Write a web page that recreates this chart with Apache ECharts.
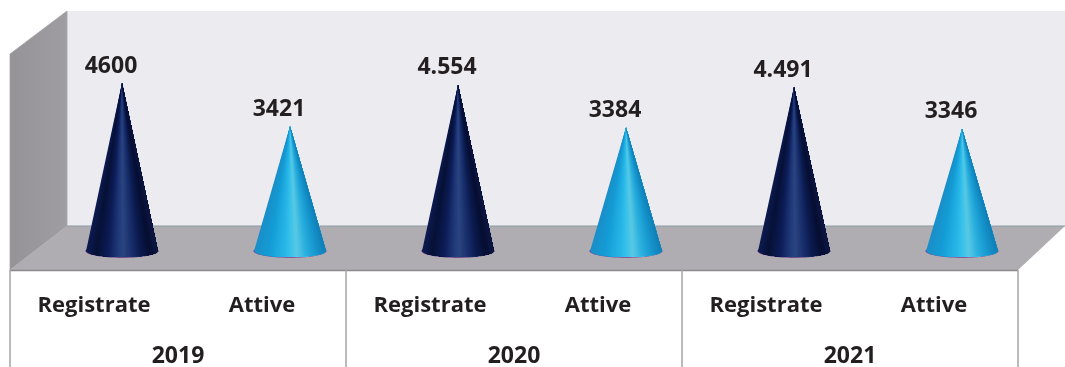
<!DOCTYPE html>
<html><head><meta charset="utf-8">
<style>html,body{margin:0;padding:0;background:#fff;overflow:hidden}#c{width:1065px;height:367px}</style>
<script src="https://cdn.jsdelivr.net/npm/echarts@6/dist/echarts.min.js"></script>
</head><body><div id="c"></div>
<script>
const years = ['2019', '2020', '2021'];
const kinds = ['Registrate', 'Attive'];
const registrate = [4600, 4554, 4491];
const attive = [3421, 3384, 3346];
const registrateLabels = ['4600', '4.554', '4.491'];
const attiveLabels = ['3421', '3384', '3346'];

const slotNames = [], values = [], labels = [];
years.forEach((y, i) => {
  slotNames.push(kinds[0], kinds[1]);
  values.push(registrate[i], attive[i]);
  labels.push(registrateLabels[i], attiveLabels[i]);
});
const FONT = '"Open Sans"';
const TEXT = '#231f20';
const darkStops = [[0,'#0c1a50'],[.14,'#071136'],[.3,'#0c1c56'],[.44,'#20397a'],[.52,'#29457f'],[.62,'#1b3270'],[.76,'#0b1a4e'],[.9,'#060e30'],[1,'#0d1745']];
const lightStops = [[0,'#1a8ec8'],[.2,'#149cd5'],[.42,'#27b6e8'],[.52,'#3cc3ea'],[.6,'#5ac9e3'],[.72,'#2bb0df'],[.86,'#1797cf'],[1,'#0f7fb6']];
function hex(c){return [1,3,5].map(i=>parseInt(c.substr(i,2),16));}
function colorAt(stops,t){
  for(let i=1;i<stops.length;i++){
    if(t<=stops[i][0]){
      const a=stops[i-1],b=stops[i],k=(t-a[0])/(b[0]-a[0]);
      const A=hex(a[1]),B=hex(b[1]);
      return 'rgb('+A.map((v,j)=>Math.round(v+(B[j]-v)*k)).join(',')+')';
    }
  }
  return stops[stops.length-1][1];
}
const SLIVERS = 40;
function renderCone(params, api) {
  const idx = params.dataIndex;
  const p0 = api.coord([idx, 0]);
  const tip = api.coord([idx, api.value(1)]);
  const hw = api.size([1, 0])[0] * 0.214;
  const ry = 6;
  const stops = idx % 2 === 0 ? darkStops : lightStops;
  const kids = [{type:'ellipse',shape:{cx:p0[0],cy:p0[1],rx:hw+.6,ry:ry+.7},style:{fill:idx%2===0?'#5a2c78':'#7a3f9a'}}];
  const y=u=>p0[1]+ry*Math.sqrt(Math.max(0,1-u*u));
  for(let s=0;s<SLIVERS;s++){
    // each layer runs from this slice to the right edge, so later layers overdraw without seams
    const pts=[[tip[0],tip[1]]];
    for(let j=s;j<=SLIVERS;j++){const u=-1+2*j/SLIVERS;pts.push([p0[0]+hw*u,y(u)]);}
    kids.push({type:'polygon',shape:{points:pts},style:{fill:colorAt(stops,(s+.5)/SLIVERS)}});
  }
  kids.push({type:'text',style:{text:labels[idx],x:tip[0]-11,y:tip[1]-17,align:'center',verticalAlign:'middle',
      font:'bold 23px '+FONT,fill:TEXT}});
  return {type:'group',children:kids};
}
const option = {
  animation:false,
  backgroundColor:'#fff',
  graphic:{elements:[
    {type:'polygon',z:-5,silent:true,shape:{points:[[67,11],[1065,11],[1065,226],[67,226]]},style:{fill:'#ecebf0'}},
    {type:'polygon',z:-5,silent:true,shape:{points:[[10,54],[67,11],[67,226],[10,270]]},style:{fill:{type:'linear',x:0,y:0,x2:1,y2:0,colorStops:[{offset:0,color:'#959397'},{offset:1,color:'#9f9da1'}]},stroke:'#a3a5a8',lineWidth:.8}},
    {type:'polygon',z:-5,silent:true,shape:{points:[[10,270],[67,226],[1065,226],[1018,270]]},style:{fill:'#b0adb2'}},
    {type:'polyline',z:-4,silent:true,shape:{points:[[67,226],[1065,226]]},style:{stroke:'#8a9ca3',lineWidth:1}},
    {type:'polyline',z:-4,silent:true,shape:{points:[[10,270.5],[1018,270.5]]},style:{stroke:'#8b898d',lineWidth:1.5}}
  ]},
  grid:[
    {left:38,width:1008,top:32,bottom:116,outerBoundsMode:'none'},
    {left:10,width:1008,top:31,bottom:97,outerBoundsMode:'none'}
  ],
  xAxis:[
    {type:'category',gridIndex:0,data:slotNames,show:false},
    {type:'category',gridIndex:1,data:slotNames,position:'bottom',
      axisLine:{show:false},axisTick:{show:false},
      axisLabel:{interval:0,margin:25,color:TEXT,fontFamily:FONT,fontWeight:'bold',fontSize:22,formatter:v=>v}},
    {type:'category',gridIndex:1,data:years,position:'bottom',
      axisLine:{show:false},axisTick:{show:true,length:97,alignWithLabel:false,interval:0,lineStyle:{color:'#a5a5a7',width:1.5}},
      axisLabel:{interval:0,margin:75,color:TEXT,fontFamily:FONT,fontWeight:'bold',fontSize:23}}
  ],
  yAxis:[
    {type:'value',gridIndex:0,min:0,max:6000,show:false},
    {type:'value',gridIndex:1,show:false}
  ],
  series:[{
    type:'custom',xAxisIndex:0,yAxisIndex:0,clip:false,
    data:values.map((v,i)=>[i,v]),
    encode:{x:0,y:1},
    renderItem:renderCone
  }]
};
const chart = echarts.init(document.getElementById('c'),null,{renderer:'canvas'});
chart.setOption(option);
</script></body></html>
